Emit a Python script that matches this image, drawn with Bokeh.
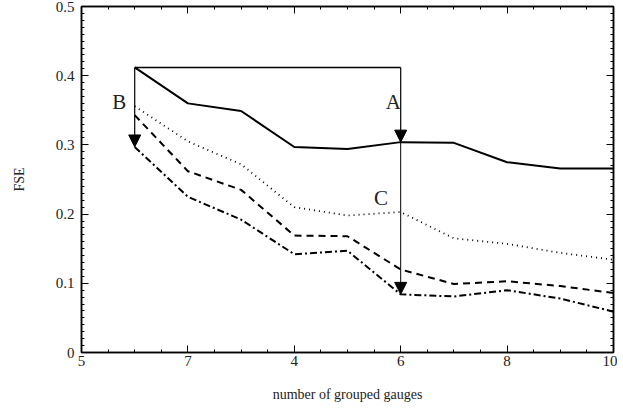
from bokeh.plotting import figure
from bokeh.models import (Range1d, LinearAxis, SingleIntervalTicker, Arrow, NormalHead, Label,
                          CustomJSTickFormatter)
from bokeh.embed import file_html
from bokeh.resources import INLINE

gauges = [1, 2, 3, 4, 5, 6, 7, 8, 9, 10]
fse_solid = [0.412, 0.360, 0.349, 0.297, 0.294, 0.304, 0.303, 0.275, 0.266, 0.266]
fse_dotted = [0.356, 0.305, 0.272, 0.210, 0.198, 0.203, 0.165, 0.157, 0.144, 0.134]
fse_dashed = [0.343, 0.262, 0.235, 0.169, 0.168, 0.120, 0.099, 0.103, 0.096, 0.086]
fse_dashdot = [0.297, 0.225, 0.192, 0.142, 0.147, 0.084, 0.081, 0.090, 0.078, 0.059]

x_tick_values = [0, 2, 4, 6, 8, 10]
x_tick_labels = ["5", "7", "4", "6", "8", "10"]
y_tick_values = [0, 0.1, 0.2, 0.30000000000000004, 0.4, 0.5]
y_tick_labels = ["0", "0.1", "0.2", "0.3", "0.4", "0.5"]

FONT = "Liberation Serif"

p = figure(width=617, height=405, output_backend="svg", toolbar_location=None,
           x_range=Range1d(0, 10), y_range=Range1d(0, 0.5),
           min_border_left=81, min_border_right=4, min_border_top=6, min_border_bottom=53,
           x_axis_location=None, y_axis_location=None)
p.grid.visible = False
p.outline_line_color = "black"
p.outline_line_width = 1.5
p.background_fill_color = "white"

xb = LinearAxis(ticker=SingleIntervalTicker(interval=2, num_minor_ticks=4),
                axis_label="number of grouped gauges")
yl = LinearAxis(ticker=SingleIntervalTicker(interval=0.1, num_minor_ticks=10),
                axis_label="FSE")
xb.major_label_overrides = {v: l for v, l in zip(x_tick_values, x_tick_labels)}
yl.major_label_overrides = {v: l for v, l in zip(y_tick_values, y_tick_labels)}
blank = CustomJSTickFormatter(code="return ''")
xt = LinearAxis(ticker=SingleIntervalTicker(interval=2, num_minor_ticks=4), formatter=blank,
                major_label_standoff=0)
yr = LinearAxis(ticker=SingleIntervalTicker(interval=0.1, num_minor_ticks=10), formatter=blank,
                major_label_standoff=0)
p.add_layout(xb, "below")
p.add_layout(yl, "left")
p.add_layout(xt, "above")
p.add_layout(yr, "right")

for ax in (xb, yl, xt, yr):
    ax.major_tick_in = 7
    ax.major_tick_out = 0
    ax.minor_tick_in = 3
    ax.minor_tick_out = 0
    ax.axis_line_color = "black"
    ax.axis_line_width = 1.5
    ax.major_tick_line_color = "black"
    ax.minor_tick_line_color = "black"
    ax.major_label_text_font = FONT
    ax.major_label_text_color = "#222222"
    ax.axis_label_text_font = FONT
    ax.axis_label_text_font_style = "normal"
    ax.axis_label_text_color = "#222222"
    ax.major_label_text_font_size = "15px"
    ax.axis_label_text_font_size = "14px"

xb.major_label_standoff = 3
yl.major_label_standoff = 7
xb.axis_label_standoff = 18
yl.axis_label_standoff = 26

p.line(gauges, fse_solid, line_color="black", line_width=2)
p.line(gauges, fse_dotted, line_color="black", line_width=1.8, line_dash="1 4")
p.line(gauges, fse_dashed, line_color="black", line_width=2, line_dash="7 5")
p.line(gauges, fse_dashdot, line_color="black", line_width=2, line_dash="7 3 2 3")

# annotation: bracket at top
top = fse_solid[0]
p.line([gauges[0], gauges[5]], [top, top], line_color="black", line_width=1.5)

def arr(x, y0, y1, w):
    p.add_layout(Arrow(end=NormalHead(size=12, fill_color="black", line_color="black"),
                       x_start=x, y_start=y0, x_end=x, y_end=y1,
                       line_color="black", line_width=w))

arr(gauges[0], top, fse_dashdot[0], 1.2)
arr(gauges[5], top, fse_solid[5], 1.2)
arr(gauges[5], fse_solid[5], fse_dashdot[5], 1.0)

for txt, x, y in [("B", 0.58, 0.344), ("A", 5.72, 0.344), ("C", 5.5, 0.206)]:
    p.add_layout(Label(x=x, y=y, text=txt, text_font=FONT, text_font_size="21px",
                       text_color="#222222"))

open("out.html", "w").write(file_html(p, INLINE))
